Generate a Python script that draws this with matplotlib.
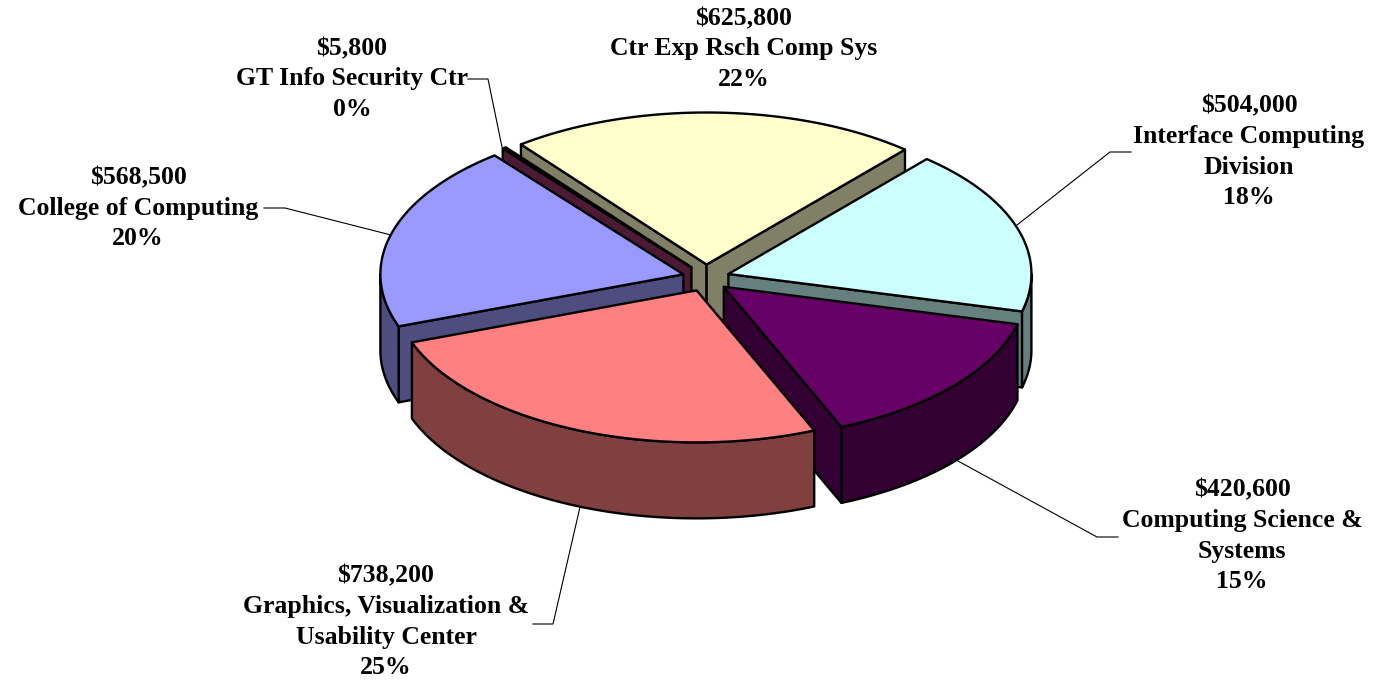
import numpy as np
import matplotlib
matplotlib.use("Agg")
import matplotlib.pyplot as plt
from matplotlib.patches import Polygon

# ---- data, in pie order (clockwise from the start angle) ----
names = ["Ctr Exp Rsch Comp Sys", "Interface Computing\nDivision", "Computing Science &\nSystems",
         "Graphics, Visualization &\nUsability Center", "College of Computing", "GT Info Security Ctr"]
values = [625800, 504000, 420600, 738200, 568500, 5800]
percents = ["22%", "18%", "15%", "25%", "20%", "0%"]
top_colors = ["#FFFFCC", "#CCFFFF", "#660066", "#FF8080", "#9999FF", "#660033"]
side_colors = ["#808066", "#668080", "#330033", "#804040", "#4D4D80", "#4D1A33"]

# ---- layout ----
W, H = 1375, 680
CX, CY = 706, 278
RX, RY = 303, 152
DEPTH = 76
EX, EY = 23.5, 13.5
START = -37.8
draw_order = [0, 5, 1, 4, 2, 3]
label_pos = [(744, 49), (1249, 152), (1242, 536), (386, 622), (138, 208), (352, 79)]
leaders = [None,
           [(1131, 152), (1110, 152), (1017, 225)],
           [(1118, 537), (1097, 537), (958, 461)],
           [(533, 624), (553, 624), (580, 507)],
           [(264, 208), (285, 208), (391, 235)],
           [(468, 79), (488, 79), (502, 147)]]

plt.rcParams["font.family"] = ["Liberation Serif", "DejaVu Serif"]
fig = plt.figure(figsize=(W / 100, H / 100), dpi=100, facecolor="white")
ax = fig.add_axes([0, 0, 1, 1])
ax.set_xlim(0, W)
ax.set_ylim(H, 0)
ax.axis("off")

sweeps = 360 * np.array(values) / np.sum(values)
edges = START + np.concatenate([[0], np.cumsum(sweeps)])
LW = 1.7


def face(pts, color):
    ax.add_patch(Polygon(pts, closed=True, facecolor=color, edgecolor="black",
                         linewidth=LW, joinstyle="round"))


for i in draw_order:
    a, b = edges[i], edges[i + 1]
    mid = np.radians((a + b) / 2)
    ax0 = CX + EX * np.sin(mid)
    ay0 = CY - EY * np.cos(mid)

    def rim(t):
        t = np.radians(t)
        return np.column_stack([ax0 + RX * np.sin(t), ay0 - RY * np.cos(t)])

    apex = np.array([[ax0, ay0]])
    down = np.array([0, DEPTH])
    # cut faces that look towards the viewer
    if np.sin(np.radians(a)) < 0:
        p = np.vstack([apex, rim(np.array([a]))])
        face(np.vstack([p, (p + down)[::-1]]), side_colors[i])
    if np.sin(np.radians(b)) > 0:
        p = np.vstack([apex, rim(np.array([b]))])
        face(np.vstack([p, (p + down)[::-1]]), side_colors[i])
    # front part of the outer wall
    w0, w1 = max(a, 90), min(b, 270)
    if w1 > w0:
        arc = rim(np.linspace(w0, w1, 120))
        face(np.vstack([arc, (arc + down)[::-1]]), side_colors[i])
    # top
    arc = rim(np.linspace(a, b, max(3, int((b - a) * 3))))
    face(np.vstack([apex, arc]), top_colors[i])

for name, val, pct, (x, y), lead in zip(names, values, percents, label_pos, leaders):
    ax.text(x, y, f"${val:,}\n{name}\n{pct}", ha="center", va="center", fontsize=18.5,
            fontweight="bold", color="black", linespacing=1.42)
    if lead:
        ax.plot(*zip(*lead), color="black", lw=0.8, solid_joinstyle="miter")

fig.savefig("out.png", dpi=100, facecolor="white")
